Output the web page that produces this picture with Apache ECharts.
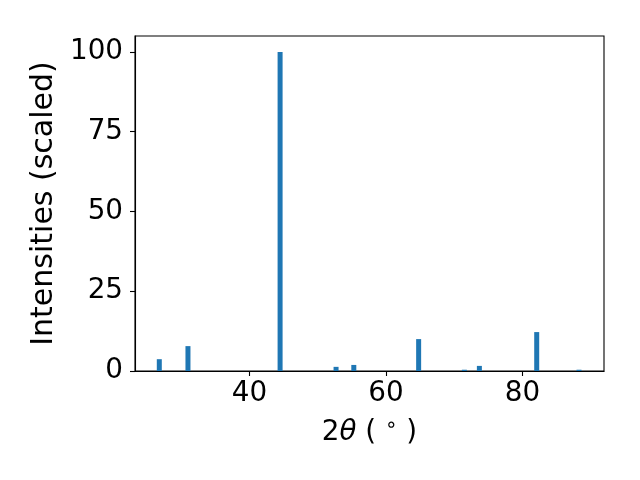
<!DOCTYPE html>
<html>
<head>
<meta charset="utf-8">
<script src="https://cdn.jsdelivr.net/npm/echarts@6/dist/echarts.min.js"></script>
<style>html,body{margin:0;padding:0;background:#fff}#c{width:640px;height:480px}</style>
</head>
<body>
<div id="c"></div>
<script>
const twoTheta = [26.8, 31.0, 44.5, 52.7, 55.3, 64.8, 71.5, 73.7, 82.1, 88.3];
const intensity = [3.7, 7.8, 100, 1.3, 1.9, 10.0, 0.4, 1.6, 12.2, 0.4];
const xTicks = [40, 60, 80];
const yTicks = [0, 25, 50, 75, 100];

const chart = echarts.init(document.getElementById('c'), null, {renderer: 'canvas'});
const font = 'DejaVu Sans';
const fs = 27.8;
chart.setOption({
  animation: false,
  grid: {left: 135, right: 36, top: 36, bottom: 109, show: true, borderColor: '#000', borderWidth: 1.1, backgroundColor: 'transparent'},
  xAxis: {
    type: 'value', min: 23.24, max: 91.96,
    axisLine: {show: true, onZero: false, lineStyle: {color: '#000', width: 1.1}},
    axisTick: {show: true, length: 5, customValues: xTicks, lineStyle: {color: '#000', width: 1.1}},
    axisLabel: {customValues: xTicks, color: '#000', fontFamily: font, fontSize: fs, margin: 9},
    splitLine: {show: false},
    name: '{n|2}{i|θ}{n| ( }{s|∘}{n| )}',
    nameLocation: 'middle', nameGap: 45,
    nameTextStyle: {
      rich: {
        n: {fontFamily: font, fontSize: fs, color: '#000'},
        i: {fontFamily: font, fontSize: fs, fontStyle: 'italic', color: '#000'},
        s: {fontFamily: font, fontSize: 20, color: '#000', padding: [0, 0, 14, 0]}
      }
    }
  },
  yAxis: {
    type: 'value', min: 0, max: 105,
    axisLine: {show: true, lineStyle: {color: '#000', width: 1.1}},
    axisTick: {show: true, length: 5, customValues: yTicks, lineStyle: {color: '#000', width: 1.1}},
    axisLabel: {customValues: yTicks, color: '#000', fontFamily: font, fontSize: fs, margin: 12},
    splitLine: {show: false},
    name: 'Intensities (scaled)',
    nameLocation: 'middle', nameGap: 73,
    nameTextStyle: {fontFamily: font, fontSize: 30, color: '#000'}
  },
  series: [{
    type: 'bar',
    barWidth: 5,
    itemStyle: {color: '#1f77b4'},
    data: twoTheta.map((x, i) => [x, intensity[i]])
  }]
});
</script>
</body>
</html>
